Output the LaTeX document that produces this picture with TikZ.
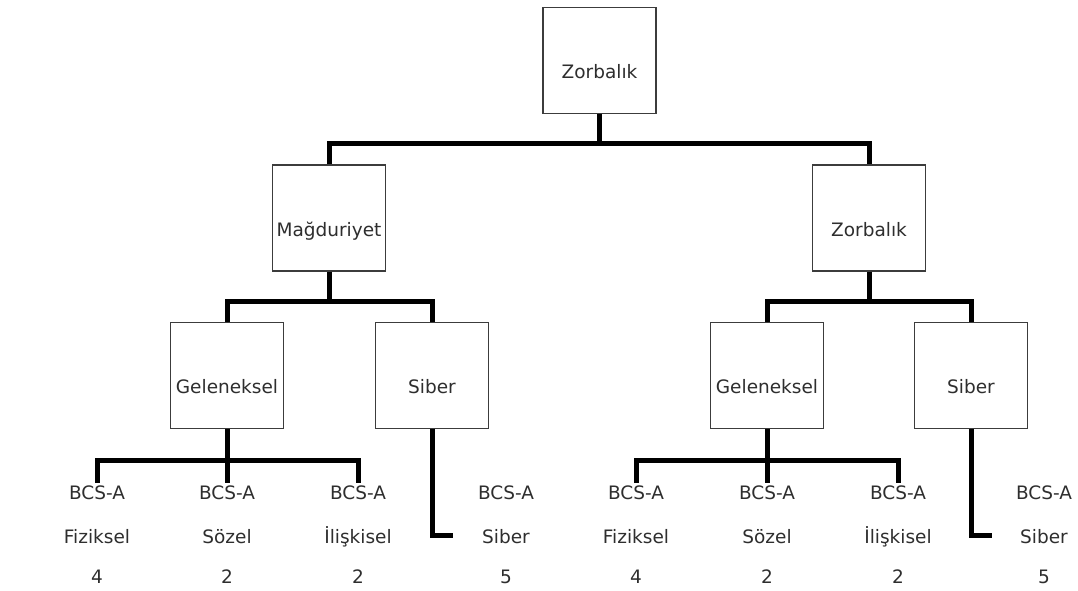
\documentclass[tikz,border=0pt]{standalone}
\usepackage{fontspec}
\setmainfont{DejaVu Sans}
\definecolor{txt}{HTML}{2E2E2E}
\definecolor{bord}{HTML}{3C3C3C}
\begin{document}
\begin{tikzpicture}[x=1pt,y=-1pt,
  box/.style={draw=bord,line width=1.3pt,fill=white,minimum width=113pt,minimum height=106pt,
    inner sep=0pt,text=txt,font=\fontsize{18.5}{20}\selectfont,text height=36pt,text depth=0pt},
  leaf/.style={inner xsep=0pt,inner ysep=3pt,text=txt,font=\fontsize{18.5}{20}\selectfont,
    text height=13.5pt,text depth=0pt},
  bar/.style={line width=5pt,black,line join=miter,line cap=butt}]
\useasboundingbox (0,0) rectangle (1078,590);
% boxes
\node[box] (top) at (599.5,60.5) {Zorbalık};
\node[box] (mag) at (329,218) {Mağduriyet};
\node[box] (zor) at (869,218) {Zorbalık};
\node[box] (gel1) at (227,375.5) {Geleneksel};
\node[box] (sib1) at (432,375.5) {Siber};
\node[box] (gel2) at (767,375.5) {Geleneksel};
\node[box] (sib2) at (971,375.5) {Siber};
% leaves
\foreach \n/\x/\name/\num in {a/97/Fiziksel/4,b/227/Sözel/2,c/358/İlişkisel/2,d/506/Siber/5,
  e/636/Fiziksel/4,f/767/Sözel/2,g/898/İlişkisel/2,h/1044/Siber/5}{
  \node[leaf] (lf\n top) at (\x,493) {BCS-A};
  \node[leaf] (lf\n mid) at (\x,537) {\name};
  \node[leaf] (lf\n num) at (\x,577) {\num};
}
% buses
\coordinate (bt) at (599.5,143);
\coordinate (bm) at (329,301);
\coordinate (bz) at (869,301);
\coordinate (bg1) at (227,460);
\coordinate (bg2) at (767,460);
\coordinate (hk1) at (453,535);
\coordinate (hk2) at (992,535);
\draw[bar] (top.south) -- (bt);
\draw[bar] (mag.north) |- (bt) -| (zor.north);
\draw[bar] (mag.south) -- (bm);
\draw[bar] (gel1.north) |- (bm) -| (sib1.north);
\draw[bar] (zor.south) -- (bz);
\draw[bar] (gel2.north) |- (bz) -| (sib2.north);
\draw[bar] (gel1.south) -- (lfbtop.north);
\draw[bar] (lfatop.north) |- (bg1) -| (lfctop.north);
\draw[bar] (gel2.south) -- (lfftop.north);
\draw[bar] (lfetop.north) |- (bg2) -| (lfgtop.north);
\draw[bar] (sib1.south) |- (hk1);
\draw[bar] (sib2.south) |- (hk2);
\end{tikzpicture}
\end{document}
